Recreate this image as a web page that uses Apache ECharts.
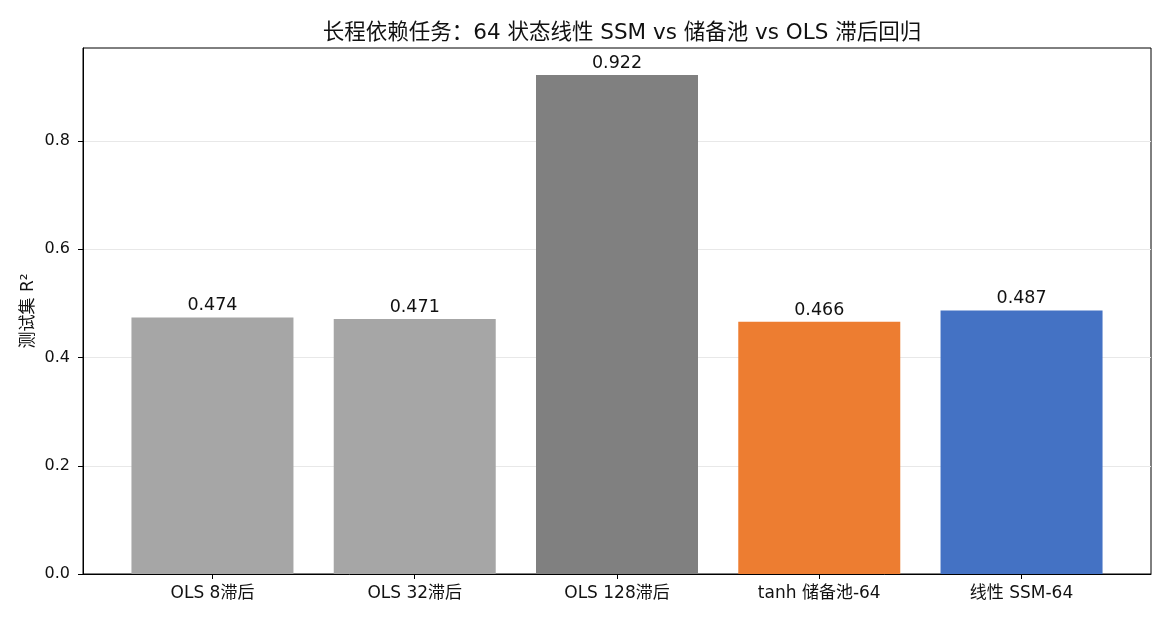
<!DOCTYPE html>
<html><head><meta charset="utf-8">
<script src="https://cdn.jsdelivr.net/npm/echarts@6/dist/echarts.min.js"></script>
<style>html,body{margin:0;padding:0;background:#fff}#c{width:1170px;height:624px}</style>
</head><body><div id="c"></div>
<script>
const categories = ['OLS 8滞后', 'OLS 32滞后', 'OLS 128滞后', 'tanh 储备池-64', '线性 SSM-64'];
const values = [0.474, 0.471, 0.922, 0.466, 0.487];
const colors = ['#a6a6a6', '#a6a6a6', '#808080', '#ed7d31', '#4472c4'];
const yTicks = [0, 0.2, 0.4, 0.6, 0.8];

const font = '"DejaVu Sans", "Noto Sans CJK SC", sans-serif';
const chart = echarts.init(document.getElementById('c'), null, {renderer: 'canvas'});
chart.setOption({
  animation: false,
  textStyle: {fontFamily: font},
  title: {
    text: '长程依赖任务：64 状态线性 SSM vs 储备池 vs OLS 滞后回归',
    left: 617, top: 18, textAlign: 'center',
    textStyle: {fontSize: 21.5, fontWeight: 'normal', color: '#111', fontFamily: font}
  },
  grid: {left: 83, right: 19, top: 48, bottom: 50, show: true, borderColor: '#000', borderWidth: 1, backgroundColor: 'transparent'},
  xAxis: {
    type: 'value', min: -0.64, max: 4.64,
    axisLine: {show: true, onZero: false, lineStyle: {color: '#000', width: 1}},
    axisTick: {show: true, customValues: categories.map((_, i) => i), length: 5, lineStyle: {color: '#000'}},
    axisLabel: {customValues: categories.map((_, i) => i), formatter: v => categories[Math.round(v)], fontSize: 17, color: '#111', margin: 11, fontFamily: font},
    splitLine: {show: false}
  },
  yAxis: {
    type: 'value', min: 0, max: 0.972,
    name: '测试集 R²', nameLocation: 'middle', nameGap: 46, nameRotate: 90, nameMoveOverlap: false,
    nameTextStyle: {fontSize: 17, color: '#111', fontFamily: font},
    axisLine: {show: true, onZero: false, lineStyle: {color: '#000', width: 1}},
    axisTick: {show: true, customValues: yTicks, length: 5, lineStyle: {color: '#000'}},
    axisLabel: {customValues: yTicks, formatter: v => v.toFixed(1), fontSize: 16, color: '#111', margin: 13, fontFamily: font},
    splitLine: {show: true, lineStyle: {color: '#e8e8e8', width: 1}}
  },
  series: [{
    type: 'bar',
    barWidth: 162,
    data: values.map((v, i) => ({value: [i, v], itemStyle: {color: colors[i]}})),
    label: {show: true, position: 'top', distance: 3, formatter: p => p.value[1].toFixed(3), fontSize: 17.5, color: '#111', fontFamily: font}
  }]
});
</script></body></html>
